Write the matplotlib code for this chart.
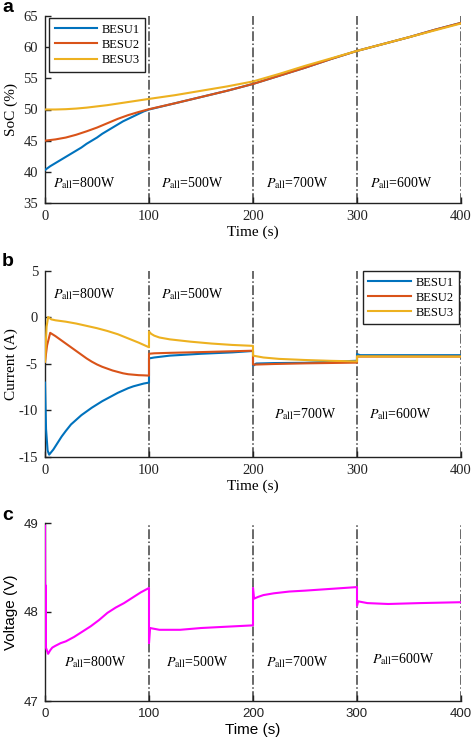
import numpy as np
import matplotlib
matplotlib.use('Agg')
import matplotlib.pyplot as plt

plt.rcParams['mathtext.fontset'] = 'stix'
plt.rcParams['axes.unicode_minus'] = False

SERIF = ['Liberation Serif', 'DejaVu Serif']
SANS = ['Liberation Sans', 'DejaVu Sans']

names = ['BESU1', 'BESU2', 'BESU3']
colors = ['#0072BD', '#D95319', '#EDB120']
powers = ['800W', '500W', '700W', '600W']
bounds = [100, 200, 300, 400]

# (a) SoC
soc1_t = [0, 5, 10, 15, 20, 25, 30, 35, 40, 45, 50, 55, 60, 65, 70, 75, 80, 85, 90, 95, 100,
          125, 150, 175, 200, 225, 250, 275, 300, 325, 350, 375, 400]
soc1 = [40.3, 40.9, 41.4, 41.9, 42.4, 42.9, 43.4, 43.9, 44.5, 45.0, 45.5, 46.1, 46.6, 47.1, 47.6, 48.1, 48.5,
        48.9, 49.3, 49.7, 50.0, 51.0, 52.0, 53.0, 54.1, 55.4, 56.7, 58.1, 59.4, 60.5, 61.6, 62.8, 63.9]
soc2_t = [0, 10, 20, 30, 40, 50, 60, 70, 80, 90, 100,
          125, 150, 175, 200, 225, 250, 275, 300, 325, 350, 375, 400]
soc2 = [45.0, 45.2, 45.5, 45.95, 46.5, 47.1, 47.8, 48.5, 49.1, 49.6, 50.05,
        51.0, 52.0, 53.0, 54.1, 55.4, 56.7, 58.1, 59.4, 60.5, 61.6, 62.8, 63.9]
soc3_t = [0, 10, 20, 30, 40, 50, 60, 70, 80, 90, 100,
          125, 150, 175, 200, 225, 250, 275, 300, 325, 350, 375, 400]
soc3 = [50.0, 50.0, 50.05, 50.15, 50.3, 50.5, 50.7, 50.95, 51.2, 51.45, 51.7,
        52.3, 53.0, 53.7, 54.5, 55.7, 57.0, 58.2, 59.4, 60.5, 61.6, 62.7, 63.8]

# (b) current
cur1_t = [0, 1, 2.5, 4, 8, 12, 16, 20, 25, 30, 35, 40, 45, 50, 55, 60, 65, 70, 75, 80, 85, 90, 95, 100,
          100, 105, 120, 150, 180, 200, 200, 203, 220, 250, 300, 300, 303, 400]
cur1 = [-7.0, -12.0, -14.3, -14.75, -14.2, -13.5, -12.8, -12.2, -11.5, -11.0, -10.5, -10.1, -9.7, -9.35,
        -9.0, -8.7, -8.4, -8.1, -7.85, -7.6, -7.4, -7.25, -7.1, -7.0,
        -4.4, -4.3, -4.1, -3.9, -3.75, -3.6, -5.2, -4.95, -4.9, -4.87, -4.65, -3.93, -4.05, -4.05]
cur2_t = [0, 2, 5, 10, 15, 20, 25, 30, 35, 40, 45, 50, 55, 60, 65, 70, 75, 80, 85, 90, 95, 100,
          100, 105, 120, 150, 200, 200, 220, 250, 300, 300, 400]
cur2 = [-4.75, -3.0, -1.65, -2.0, -2.4, -2.8, -3.2, -3.6, -4.0, -4.4, -4.75, -5.05, -5.3, -5.5, -5.7, -5.85,
        -6.0, -6.1, -6.15, -6.2, -6.22, -6.25,
        -3.9, -3.85, -3.8, -3.72, -3.57, -5.07, -5.0, -4.93, -4.85, -4.2, -4.2]
cur3_t = [0, 1.5, 3, 6, 10, 20, 30, 40, 50, 60, 70, 80, 90, 100,
          100, 102, 105, 110, 120, 140, 160, 180, 200, 200, 210, 225, 250, 275, 300, 300, 400]
cur3 = [-4.75, -1.0, 0.05, -0.2, -0.3, -0.45, -0.65, -0.9, -1.15, -1.45, -1.8, -2.25, -2.7, -3.2,
        -1.5, -1.75, -1.95, -2.15, -2.35, -2.6, -2.8, -2.95, -3.05, -4.1, -4.3, -4.45, -4.57, -4.66, -4.72,
        -4.18, -4.2]

# (c) voltage
volt_t = [0, 0.3, 0.6, 0.9, 3, 5, 7, 10, 15, 20, 28, 36, 44, 52, 60, 68, 76, 84, 92, 100,
          100, 101, 110, 130, 150, 175, 200, 200, 201, 205, 210, 220, 235, 250, 275, 300,
          300, 301, 310, 330, 360, 400]
volt = [48.97, 47.61, 48.3, 47.6, 47.53, 47.57, 47.6, 47.62, 47.65, 47.67, 47.72, 47.78, 47.84, 47.91,
        47.99, 48.05, 48.1, 48.16, 48.22, 48.27,
        47.65, 47.82, 47.80, 47.80, 47.82, 47.835, 47.85, 48.27, 48.15, 48.17, 48.19, 48.21, 48.23, 48.24,
        48.26, 48.28, 48.07, 48.12, 48.10, 48.09, 48.1, 48.11]

fig = plt.figure(figsize=(4.72, 7.45), dpi=100)
W, H = 472, 745


def px_axes(l, t, r, b):
    return fig.add_axes([l / W, 1 - b / H, (r - l) / W, (b - t) / H])


def style(ax, fam, size):
    for s in ['top', 'right']:
        ax.spines[s].set_visible(False)
    for s in ['left', 'bottom']:
        ax.spines[s].set_color('#222222')
        ax.spines[s].set_linewidth(1.0)
    ax.tick_params(direction='in', length=4, width=1.0, colors='#222222', labelsize=size, pad=5)
    for lab in ax.get_xticklabels() + ax.get_yticklabels():
        lab.set_family(fam)
    ax.set_xlim(0, 400)
    ax.set_xticks([0, 100, 200, 300, 400])
    for x in bounds:
        ax.axvline(x, color='#404040', ls='-.', lw=1.1, zorder=1)


def label_power(ax, xs, ys):
    for p, x, y in zip(powers, xs, ys):
        ax.text(x, y, r'$P_{\mathrm{all}}$=' + p, family=SERIF, fontsize=10,
                ha='center', va='center')


def legend(ax, anchor, loc):
    lg = ax.legend(loc=loc, bbox_to_anchor=anchor, prop={'family': SERIF, 'size': 9},
                   fancybox=False, edgecolor='#222222', framealpha=1, handlelength=3.4,
                   borderpad=0.45, labelspacing=0.25, handletextpad=0.35, borderaxespad=0)
    lg.get_frame().set_linewidth(1.0)


ylab_x = (18 - 45) / 416

# panel a
ax1 = px_axes(45, 16, 461, 203)
for t, v, c, n in zip([soc1_t, soc2_t, soc3_t], [soc1, soc2, soc3], colors, names):
    ax1.plot(t, v, color=c, lw=1.5, label=n, zorder=3)
ax1.set_ylim(35, 65)
ax1.set_yticks([35, 40, 45, 50, 55, 60, 65])
style(ax1, SERIF, 10.5)
ax1.set_ylabel('SoC (%)', family=SERIF, fontsize=11)
ax1.yaxis.set_label_coords(ylab_x, 0.5)
ax1.set_xlabel('Time (s)', family=SERIF, fontsize=11, labelpad=2)
label_power(ax1, [38, 142, 243, 343], [38.2, 38.2, 38.2, 38.2])
legend(ax1, (4 / 416, 1 - 2 / 187), 'upper left')

# panel b
ax2 = px_axes(45, 271, 461, 457)
for t, v, c, n in zip([cur1_t, cur2_t, cur3_t], [cur1, cur2, cur3], colors, names):
    ax2.plot(t, v, color=c, lw=1.5, label=n, zorder=3)
ax2.set_ylim(-15, 5)
ax2.set_yticks([-15, -10, -5, 0, 5])
style(ax2, SERIF, 10.5)
ax2.set_ylabel('Current (A)', family=SERIF, fontsize=11)
ax2.yaxis.set_label_coords(ylab_x, 0.5)
ax2.set_xlabel('Time (s)', family=SERIF, fontsize=11, labelpad=2)
label_power(ax2, [38, 142, 250, 342], [2.5, 2.5, -10.4, -10.4])
legend(ax2, (1 - 2 / 416, 1.0), 'upper right')

# panel c
ax3 = px_axes(45, 523, 461, 701)
ax3.plot(volt_t, volt, color='#FF00FF', lw=1.5, zorder=3)
ax3.set_ylim(47, 49)
ax3.set_yticks([47, 48, 49])
style(ax3, SANS, 9.5)
ax3.set_ylabel('Voltage (V)', family=SANS, fontsize=11)
ax3.yaxis.set_label_coords(ylab_x, 0.5)
ax3.set_xlabel('Time (s)', family=SANS, fontsize=11, labelpad=2)
label_power(ax3, [48, 146, 243, 344], [47.44, 47.44, 47.44, 47.47])

for y, s in [(8, 'a'), (262, 'b'), (516, 'c')]:
    fig.text(2 / W, 1 - y / H, s, family=SANS, fontsize=14, fontweight='bold', va='center', ha='left')

fig.savefig('out.png', dpi=100)
